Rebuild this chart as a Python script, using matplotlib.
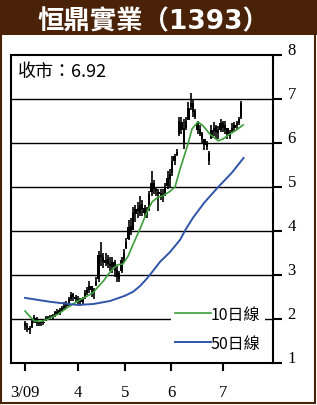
import numpy as np
import matplotlib
matplotlib.use("Agg")
import matplotlib.pyplot as plt
from matplotlib.patches import Rectangle
from matplotlib.transforms import ScaledTranslation

plt.rcParams["font.family"] = ["Noto Sans CJK TC", "DejaVu Sans"]

title = "恒鼎實業（1393）"
close_label = "收市：6.92"

# daily candles, Mar 2009 -> Jul 2009 (trading-day index)
opens = [1.90, 1.85, 1.80, 1.82, 1.95, 2.02, 1.88, 1.90, 1.90, 1.96,
         2.03, 2.00, 2.04, 2.08, 2.16, 2.12, 2.19, 2.24, 2.30, 2.34,
         2.45, 2.56, 2.50, 2.46, 2.43, 2.38, 2.47, 2.60, 2.66, 2.74,
         2.58, 2.78, 2.90, 3.45, 3.42, 3.28, 3.36, 3.26, 3.18, 3.30,
         3.12, 2.92, 3.08, 3.36, 3.62, 3.82, 4.12, 4.02, 4.38, 4.52,
         4.42, 4.62, 4.52, 4.38, 4.48, 4.88, 5.08, 4.96, 4.88, 4.86,
         4.78, 4.86, 5.02, 5.18, 5.32, 5.58, 5.72, 6.20, 6.48, 6.35,
         6.35, 6.52, 6.82, 6.92, 6.72, 6.45, 6.32, 6.20, 6.08, 5.98,
         5.78, 6.12, 6.28, 6.36, 6.22, 6.30, 6.45, 6.30, 6.35, 6.15,
         6.28, 6.33, 6.40, 6.45, 6.58]
highs = [1.95, 1.90, 1.85, 2.00, 2.10, 2.05, 1.95, 1.95, 1.97, 2.07,
         2.07, 2.08, 2.12, 2.18, 2.22, 2.25, 2.30, 2.38, 2.40, 2.50,
         2.62, 2.60, 2.55, 2.52, 2.48, 2.50, 2.65, 2.72, 2.86, 2.75,
         2.70, 2.95, 3.55, 3.75, 3.50, 3.50, 3.45, 3.42, 3.40, 3.35,
         3.20, 3.10, 3.40, 3.60, 3.85, 4.25, 4.30, 4.55, 4.60, 4.65,
         4.80, 4.70, 4.60, 4.55, 4.90, 5.36, 5.15, 5.00, 4.95, 4.95,
         4.95, 5.10, 5.36, 5.40, 5.70, 5.75, 5.86, 6.60, 6.60, 6.55,
         6.60, 6.93, 7.14, 7.00, 6.77, 6.50, 6.40, 6.25, 6.10, 6.05,
         5.82, 6.40, 6.48, 6.40, 6.38, 6.55, 6.50, 6.50, 6.35, 6.30,
         6.45, 6.48, 6.50, 6.60, 6.95]
lows = [1.75, 1.70, 1.65, 1.80, 1.90, 1.85, 1.85, 1.85, 1.87, 1.95,
        1.97, 1.98, 2.00, 2.05, 2.08, 2.10, 2.15, 2.20, 2.25, 2.30,
        2.40, 2.42, 2.38, 2.35, 2.30, 2.35, 2.45, 2.55, 2.60, 2.50,
        2.45, 2.75, 2.85, 3.20, 3.15, 3.20, 3.15, 3.10, 3.05, 2.95,
        2.85, 2.84, 3.05, 3.30, 3.60, 3.80, 3.90, 4.10, 4.20, 4.30,
        4.35, 4.35, 4.30, 4.30, 4.45, 4.80, 4.85, 4.80, 4.45, 4.70,
        4.66, 4.80, 4.95, 5.00, 5.25, 5.50, 5.70, 6.15, 6.20, 5.86,
        6.30, 6.60, 6.75, 6.60, 6.55, 6.20, 6.15, 6.00, 5.85, 5.85,
        5.50, 6.10, 6.15, 6.10, 6.10, 6.25, 6.25, 6.20, 6.10, 6.10,
        6.25, 6.28, 6.30, 6.40, 6.55]
closes = [1.85, 1.80, 1.75, 1.95, 2.05, 1.90, 1.90, 1.92, 1.93, 2.02,
          2.00, 2.05, 2.08, 2.15, 2.12, 2.20, 2.25, 2.30, 2.35, 2.45,
          2.55, 2.50, 2.45, 2.42, 2.38, 2.45, 2.60, 2.65, 2.75, 2.60,
          2.65, 2.85, 3.45, 3.40, 3.30, 3.35, 3.25, 3.20, 3.30, 3.10,
          2.95, 3.05, 3.35, 3.50, 3.75, 4.10, 4.00, 4.40, 4.50, 4.45,
          4.60, 4.50, 4.40, 4.45, 4.85, 5.10, 4.95, 4.90, 4.85, 4.80,
          4.85, 5.00, 5.20, 5.30, 5.60, 5.70, 5.80, 6.50, 6.30, 6.00,
          6.50, 6.80, 6.90, 6.70, 6.60, 6.30, 6.20, 6.10, 5.95, 5.90,
          5.60, 6.30, 6.35, 6.25, 6.30, 6.45, 6.35, 6.40, 6.20, 6.25,
          6.35, 6.40, 6.45, 6.55, 6.92]

# moving averages (day index, value)
ma10_days = [0, 2.2, 4.3, 7.4, 10, 14.3, 18.7, 23, 27, 29.6, 31.7, 34, 37, 40,
             42.6, 44.8, 47, 50, 53, 55.2, 57.8, 60, 63, 65.2, 67.4, 70.4,
             72.6, 75.2, 77.4, 80.4, 84, 86, 89, 92, 94.8]
ma10 = [2.18, 2.05, 1.95, 1.95, 2.00, 2.11, 2.27, 2.41, 2.52, 2.60, 2.73, 2.86,
        3.07, 3.23, 3.25, 3.43, 3.70, 4.05, 4.43, 4.66, 4.77, 4.80, 4.90, 5.00,
        5.41, 5.90, 6.32, 6.48, 6.39, 6.20, 6.05, 6.09, 6.20, 6.30, 6.41]
ma50_days = [0, 11, 22.6, 29.6, 37, 43.5, 47, 50, 53, 55.6, 58.7, 63, 67.4,
             70, 73, 78, 84, 90, 95]
ma50 = [2.48, 2.39, 2.32, 2.34, 2.41, 2.53, 2.62, 2.75, 2.92, 3.09, 3.30, 3.52,
        3.80, 4.05, 4.30, 4.65, 5.00, 5.33, 5.66]

month_pos = [0, 23, 43.5, 63.5, 86]
month_labels = ["3/09", "4", "5", "6", "7"]
y_ticks = [1, 2, 3, 4, 5, 6, 7, 8]

brown = "#4a2208"
green = "#3c9e3a"
blue = "#2f54a8"

fig = plt.figure(figsize=(3.17, 4.06), dpi=100)
fig.patches.append(Rectangle((0, 1 - 36 / 406), 1, 36 / 406, transform=fig.transFigure,
                             facecolor=brown, edgecolor="none", zorder=0))
fig.patches.append(Rectangle((0.004, 0.006), 0.99, 0.96, transform=fig.transFigure,
                             facecolor="none", edgecolor=brown, lw=1.5, zorder=0))
fig.text(0.483, 0.946, title, color="white", fontsize=19, fontweight="bold",
         family=["DejaVu Sans", "Noto Sans CJK TC"], ha="center", va="center")

ax = fig.add_axes([11 / 317, 1 - 364 / 406, 262 / 317, 308 / 406])
days = np.arange(len(closes))
ax.vlines(days, lows, highs, color="black", lw=1.2, zorder=3)
body_lo = np.minimum(opens, closes)
body_h = np.abs(np.array(closes) - np.array(opens))
ax.bar(days, np.maximum(body_h, 0.04), bottom=body_lo, width=1.0, color="black", zorder=3)

ax.plot(ma10_days, ma10, color=green, lw=1.2, zorder=4, label="10日線")
ax.plot(ma50_days, ma50, color=blue, lw=1.4, zorder=4, label="50日線")

for yv in y_ticks[1:-1]:
    ax.axhline(yv, color="black", lw=1.0, zorder=1)

ax.set_xlim(-6.1, 107.8)
ax.set_ylim(1, 8)
for s in ax.spines.values():
    s.set_linewidth(1.5)

ax.yaxis.tick_right()
ax.set_yticks(y_ticks)
ax.set_yticklabels([str(v) for v in y_ticks], fontfamily="Liberation Serif", fontsize=12)
ax.tick_params(axis="y", direction="out", length=6.5, width=1.5, pad=4)
off = ScaledTranslation(0, 5 / 72, fig.dpi_scale_trans)
for lab in ax.get_yticklabels():
    lab.set_transform(lab.get_transform() + off)

ax.set_xticks(month_pos)
ax.set_xticklabels(month_labels, fontfamily="Liberation Serif", fontsize=12)
ax.tick_params(axis="x", direction="out", length=6, width=1.5, pad=9)

ax.text(0.027, 0.948, close_label, transform=ax.transAxes, fontsize=13,
        ha="left", va="center", zorder=6)

leg = ax.legend(loc="lower right", bbox_to_anchor=(0.97, 0.02), fontsize=11.5,
                frameon=True, fancybox=False, framealpha=1, edgecolor="none",
                handlelength=2.2, handletextpad=0.0, borderpad=0.3,
                labelspacing=0.75, borderaxespad=0)
leg.set_zorder(5)

fig.savefig("out.png", dpi=100)
